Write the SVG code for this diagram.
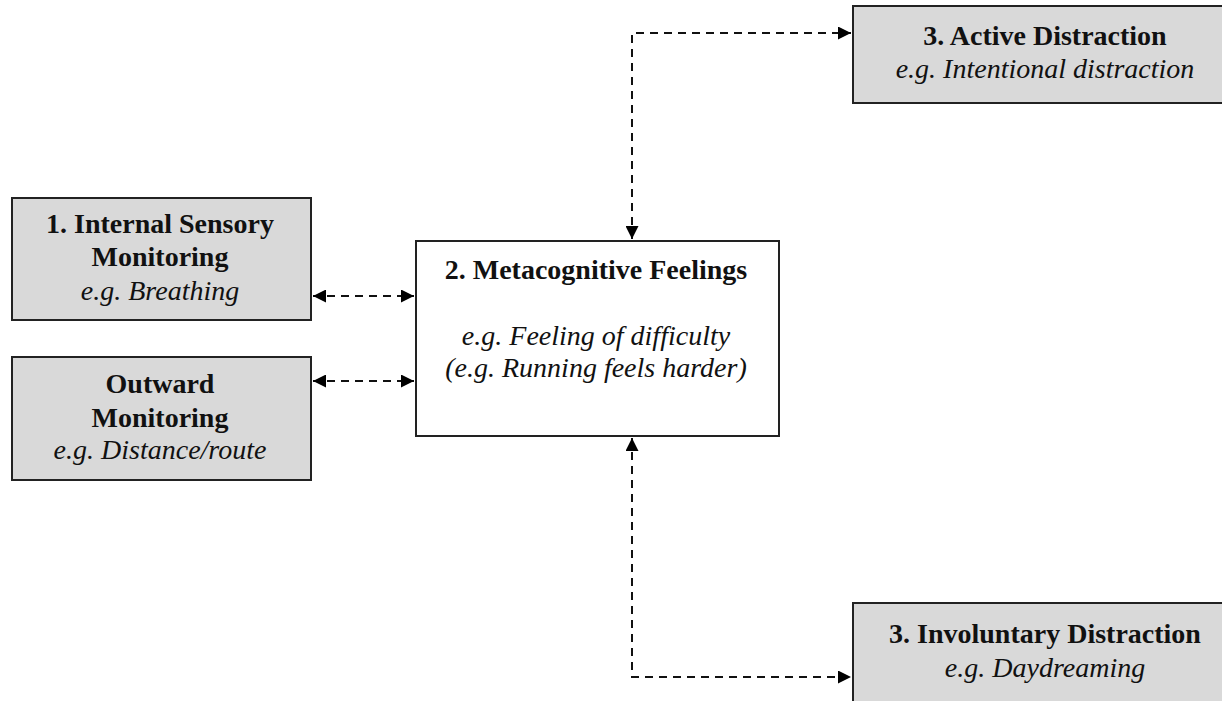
<svg xmlns="http://www.w3.org/2000/svg" width="1222" height="701" viewBox="0 0 1222 701">
<defs>
<marker id="ah" viewBox="0 0 10 10" refX="10" refY="5" markerWidth="13" markerHeight="13" markerUnits="userSpaceOnUse" orient="auto-start-reverse">
<path d="M0,0 L10,5 L0,10 z" fill="#000"/>
</marker>
<style>
.box{stroke:#222;stroke-width:2}
.g{fill:#d9d9d9}
.w{fill:#fff}
.t{font-family:"Liberation Serif",serif;font-size:28px;fill:#111;text-anchor:middle}
.b{font-weight:bold}
.i{font-style:italic}
.c{fill:none;stroke:#111;stroke-width:2;stroke-dasharray:8,6}
</style>
</defs>
<rect width="1222" height="701" fill="#fff"/>
<g id="connectors">
<path class="c" d="M313,296 L414,296" marker-start="url(#ah)" marker-end="url(#ah)"/>
<path class="c" d="M313,381 L414,381" marker-start="url(#ah)" marker-end="url(#ah)"/>
<path class="c" d="M632,239 L632,33 L851,33" marker-start="url(#ah)" marker-end="url(#ah)"/>
<path class="c" d="M632,438 L632,677 L851,677" marker-start="url(#ah)" marker-end="url(#ah)"/>
</g>
<g id="internal">
<rect class="box g" x="12" y="198" width="299" height="122"/>
<text class="t b" x="160" y="233">1. Internal Sensory</text>
<text class="t b" x="160" y="266">Monitoring</text>
<text class="t i" x="160" y="300">e.g. Breathing</text>
</g>
<g id="outward">
<rect class="box g" x="12" y="357" width="299" height="123"/>
<text class="t b" x="160" y="393">Outward</text>
<text class="t b" x="160" y="427">Monitoring</text>
<text class="t i" x="160" y="459">e.g. Distance/route</text>
</g>
<g id="metacognitive">
<rect class="box w" x="416" y="241" width="363" height="195"/>
<text class="t b" x="596" y="279">2. Metacognitive Feelings</text>
<text class="t i" x="596" y="345">e.g. Feeling of difficulty</text>
<text class="t i" x="596" y="377">(e.g. Running feels harder)</text>
</g>
<g id="active">
<rect class="box g" x="853" y="6" width="390" height="97"/>
<text class="t b" x="1045" y="45">3. Active Distraction</text>
<text class="t i" x="1045" y="78">e.g. Intentional distraction</text>
</g>
<g id="involuntary">
<rect class="box g" x="853" y="603" width="390" height="110"/>
<text class="t b" x="1045" y="643">3. Involuntary Distraction</text>
<text class="t i" x="1045" y="677">e.g. Daydreaming</text>
</g>
</svg>
